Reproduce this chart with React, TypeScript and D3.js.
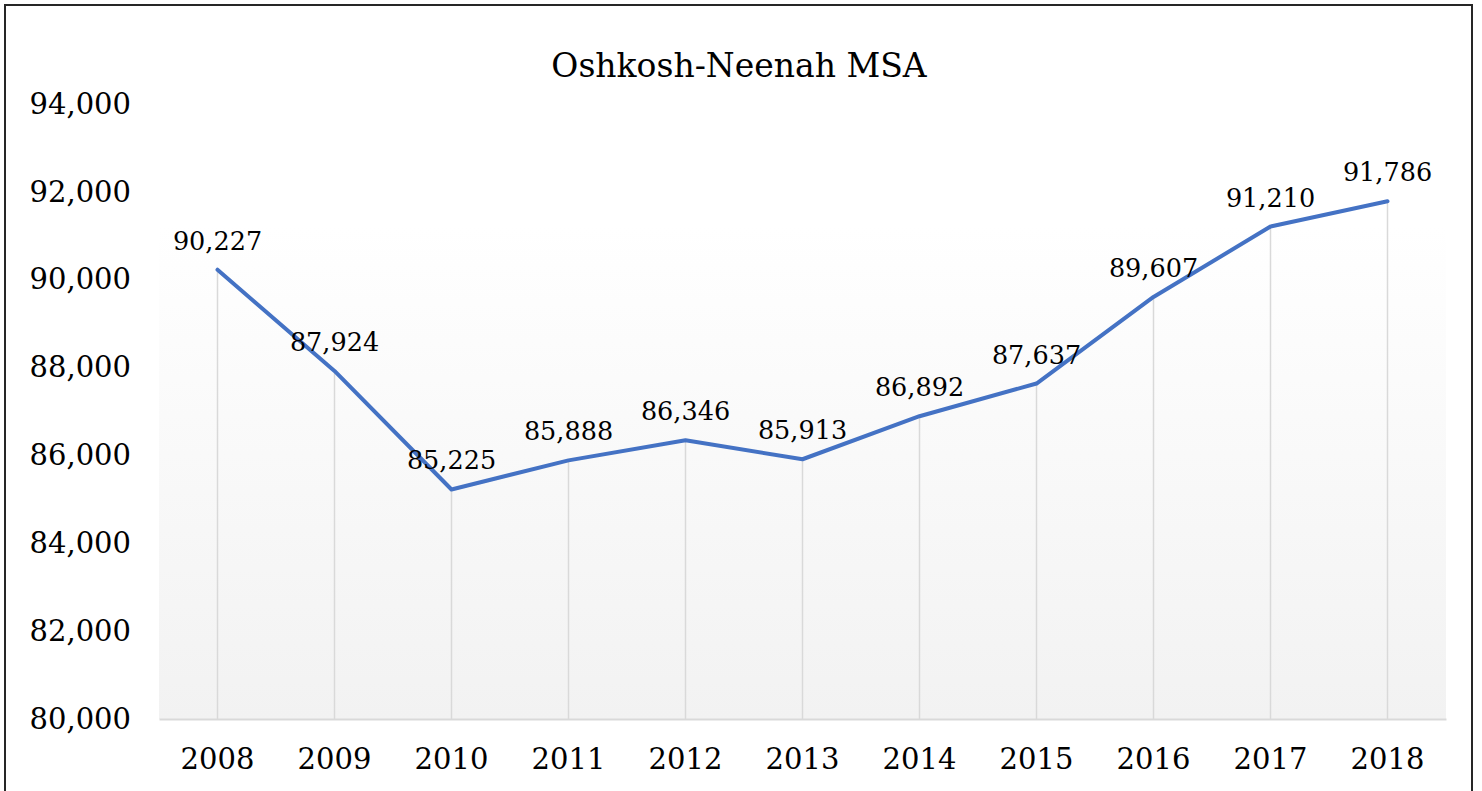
import React, { useRef, useEffect } from 'react';
import * as d3 from 'd3';

const years = ['2008', '2009', '2010', '2011', '2012', '2013', '2014', '2015', '2016', '2017', '2018'];
const population = [90227, 87924, 85225, 85888, 86346, 85913, 86892, 87637, 89607, 91210, 91786];
const yTicks = [80000, 82000, 84000, 86000, 88000, 90000, 92000, 94000];

const WIDTH = 1482;
const HEIGHT = 791;
const FONT = '"DejaVu Serif", Georgia, serif';

export default function App() {
  const svgRef = useRef<SVGSVGElement | null>(null);

  useEffect(() => {
    if (!svgRef.current) return;
    const svg = d3.select(svgRef.current);
    svg.selectAll('*').remove();

    const margin = { top: 104, right: 36, bottom: 72, left: 159 };
    const innerWidth = WIDTH - margin.left - margin.right;
    const innerHeight = HEIGHT - margin.top - margin.bottom;

    // plot area gradient
    const defs = svg.append('defs');
    const grad = defs
      .append('linearGradient')
      .attr('id', 'plotBg')
      .attr('x1', 0)
      .attr('y1', 0)
      .attr('x2', 0)
      .attr('y2', 1);
    grad.append('stop').attr('offset', '0%').attr('stop-color', '#ffffff');
    grad.append('stop').attr('offset', '20%').attr('stop-color', '#ffffff');
    grad.append('stop').attr('offset', '100%').attr('stop-color', '#f2f2f2');

    svg
      .append('rect')
      .attr('x', 0)
      .attr('y', 0)
      .attr('width', WIDTH)
      .attr('height', HEIGHT)
      .attr('fill', '#fff');

    // outer frame (bottom edge falls outside the picture)
    svg
      .append('rect')
      .attr('x', 5)
      .attr('y', 5)
      .attr('width', 1467)
      .attr('height', HEIGHT + 10)
      .attr('fill', 'none')
      .attr('stroke', '#262626')
      .attr('stroke-width', 2);

    svg
      .append('text')
      .attr('x', 739)
      .attr('y', 77)
      .attr('text-anchor', 'middle')
      .attr('font-family', FONT)
      .attr('font-size', 33)
      .attr('fill', '#000')
      .text('Oshkosh-Neenah MSA');

    const g = svg.append('g').attr('transform', `translate(${margin.left}, ${margin.top})`);

    const xScale = d3.scaleBand().domain(years).range([0, innerWidth]);
    const yScale = d3.scaleLinear().domain([80000, 94000]).range([innerHeight, 0]);
    const cx = (d: string) => (xScale(d) ?? 0) + xScale.bandwidth() / 2;

    g.append('rect')
      .attr('x', 0)
      .attr('y', 0)
      .attr('width', innerWidth)
      .attr('height', innerHeight)
      .attr('fill', 'url(#plotBg)');

    // drop lines
    g.selectAll('line.drop')
      .data(years)
      .join('line')
      .attr('class', 'drop')
      .attr('x1', (d) => cx(d))
      .attr('x2', (d) => cx(d))
      .attr('y1', (d, i) => yScale(population[i]))
      .attr('y2', innerHeight)
      .attr('stroke', '#d9d9d9')
      .attr('stroke-width', 1.5);

    // x axis
    g.append('g')
      .attr('transform', `translate(0, ${innerHeight})`)
      .call(d3.axisBottom(xScale).tickSize(0).tickPadding(29))
      .call((a) => a.select('.domain').attr('stroke', '#d9d9d9').attr('stroke-width', 2))
      .call((a) =>
        a.selectAll('text').attr('font-family', FONT).attr('font-size', 29).attr('fill', '#000')
      );

    // y axis
    g.append('g')
      .call(
        d3
          .axisLeft(yScale)
          .tickValues(yTicks)
          .tickSize(0)
          .tickPadding(28)
          .tickFormat(d3.format(',.0f'))
      )
      .call((a) => a.select('.domain').remove())
      .call((a) =>
        a.selectAll('text').attr('font-family', FONT).attr('font-size', 29).attr('fill', '#000')
      );

    const line = d3
      .line<number>()
      .x((d, i) => cx(years[i]))
      .y((d) => yScale(d));

    g.append('path')
      .datum(population)
      .attr('d', line)
      .attr('fill', 'none')
      .attr('stroke', '#4472c4')
      .attr('stroke-width', 4)
      .attr('stroke-linejoin', 'round')
      .attr('stroke-linecap', 'round');

    g.selectAll('text.label')
      .data(population)
      .join('text')
      .attr('class', 'label')
      .attr('x', (d, i) => cx(years[i]))
      .attr('y', (d) => yScale(d) - 20)
      .attr('text-anchor', 'middle')
      .attr('font-family', FONT)
      .attr('font-size', 25.5)
      .attr('fill', '#000')
      .text((d) => d3.format(',')(d));
  }, []);

  return (
    <svg
      ref={svgRef}
      width={WIDTH}
      height={HEIGHT}
      style={{ position: 'absolute', left: 0, top: 0, display: 'block' }}
    />
  );
}
